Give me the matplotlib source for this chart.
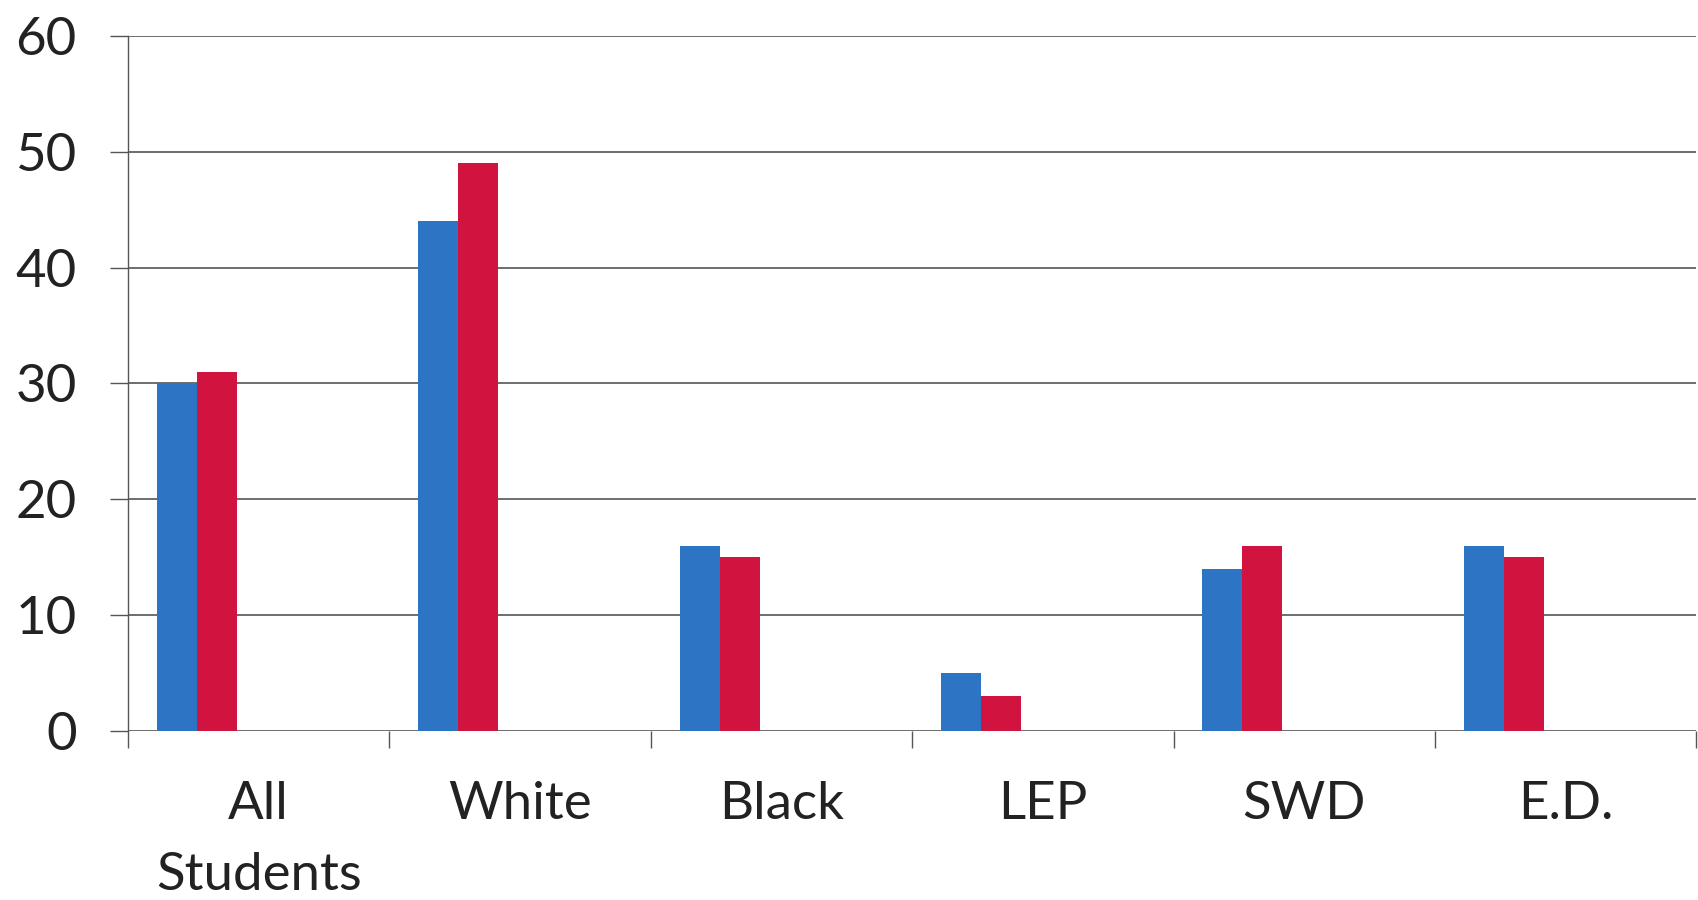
import matplotlib.pyplot as plt
import numpy as np

# categories and the two series
groups = ['All\nStudents', 'White', 'Black', 'LEP', 'SWD', 'E.D.']
blue_vals = [30, 44, 16, 5, 14, 16]
red_vals = [31, 49, 15, 3, 16, 15]

blue = '#2E74C4'
red = '#D1143F'
gray = '#555555'

plt.rcParams['font.family'] = ['Lato', 'DejaVu Sans']

fig = plt.figure(figsize=(16.98, 9), dpi=100)
ax = fig.add_axes([0.0754, 0.188, 0.9236, 0.772])

x = np.arange(len(groups))
w = 0.153
off = 0.11
ax.bar(x + off, blue_vals, w, align='edge', color=blue, zorder=3)
ax.bar(x + off + w, red_vals, w, align='edge', color=red, zorder=3)

ax.set_xlim(0, 6)
ax.set_ylim(0, 60)

# horizontal grid at every 10
ax.set_yticks(np.arange(0, 61, 10))
ax.yaxis.grid(True, color=gray, linewidth=1.2, zorder=1)
ax.tick_params(axis='y', length=13, width=1.0, color=gray, pad=24,
               labelsize=38, labelcolor='#222222')

# boundary ticks on x, labels at category centres
ax.set_xticks(np.arange(0, 7))
ax.set_xticklabels([])
ax.set_xticks(x + 0.5, minor=True)
ax.set_xticklabels(groups, minor=True, fontsize=38, color='#222222',
                   linespacing=1.65)
ax.tick_params(axis='x', which='major', length=12, width=1.0, color=gray,
               direction='out')
ax.tick_params(axis='x', which='minor', length=0, pad=36)

for s in ['top', 'right', 'bottom']:
    ax.spines[s].set_visible(False)
ax.spines['left'].set_color(gray)
ax.spines['left'].set_linewidth(1.0)

fig.savefig('out.png', dpi=100)
